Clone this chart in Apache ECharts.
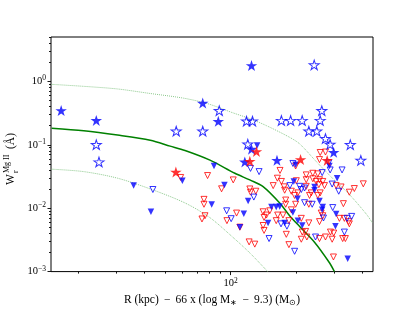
<!DOCTYPE html>
<html><head><meta charset="utf-8">
<script src="https://cdn.jsdelivr.net/npm/echarts@6/dist/echarts.min.js"></script>
<style>html,body{margin:0;padding:0;background:#fff}#c{width:415px;height:312px}</style>
</head><body><div id="c"></div>
<script>
// ---- axis ranges and ticks (data units: R in kpc, W in Angstrom) ----
const xMin = 15, xMax = 450, yMin = 0.001, yMax = 5;
const xMajorTicks = [100];
const xMinorTicks = [20, 30, 40, 50, 60, 70, 80, 90, 200, 300, 400];
const yMajorTicks = [0.001, 0.01, 0.1, 1];
const yMinorTicks = [0.002,0.003,0.004,0.005,0.006,0.007,0.008,0.009,
                     0.02,0.03,0.04,0.05,0.06,0.07,0.08,0.09,
                     0.2,0.3,0.4,0.5,0.6,0.7,0.8,0.9,2,3,4,5];

// ---- data points [R, W] ----
const blueStarFilled = [[16.7,0.339],[24.2,0.237],[74.5,0.444],[87.8,0.229],[124.7,1.74],[124.7,0.0834],[116.2,0.0525],[163.2,0.0558],[297,0.0742]];
const blueStarOpen = [[24.2,0.0986],[24.9,0.0525],[56.3,0.161],[74.5,0.161],[88.7,0.339],[118.3,0.232],[126,0.232],[171,0.237],[188.5,0.237],[213,0.237],[262,0.339],[257.6,0.237],[228.5,0.161],[248.5,0.161],[272.4,0.123],[286,0.0997],[354,0.0986],[241.8,1.78],[119.9,0.1004],[395.7,0.0558]];
const redStarFilled = [[56.1,0.0364],[131.4,0.0768],[122.5,0.0538],[209.4,0.0572],[277.3,0.0554]];
const blueTriFilled = [[35.9,0.0227],[43.1,0.00877],[60.1,0.0271],[83.9,0.0462],[93.7,0.0232],[81.9,0.01145],[115,0.00816],[120.3,0.013],[132.3,0.0976],[110.3,0.00502],[153.9,0.01047],[161.9,0.01047],[168,0.01058],[148.5,0.00586],[177,0.00586],[195,0.0264],[202.9,0.01408],[193.1,0.00855],[203.5,0.00636],[213.2,0.00533],[284.1,0.0462],[308,0.0297],[242.6,0.0216],[242.6,0.0192],[255.7,0.013],[264.7,0.01047],[263.1,0.00941],[304.8,0.00808],[302.6,0.0052],[344.4,0.00159],[198.7,0.0484]];
const blueTriOpen = [[44,0.0197],[95.9,0.00909],[100.6,0.00683],[123.4,0.0424],[135.1,0.0377],[127.8,0.01496],[150.1,0.00332],[170.3,0.00566],[181.3,0.0052],[196.6,0.00209],[193.1,0.0507],[187.1,0.0227],[207.3,0.0221],[263.1,0.0364],[286.2,0.0401],[282,0.0519],[324.6,0.0401],[292.3,0.024],[313.3,0.0185],[218.4,0.0208],[211,0.0197],[218.4,0.0122],[236.7,0.01153],[294.1,0.01022],[342.2,0.00691],[359.2,0.00742],[266.7,0.007],[332.6,0.0042],[245.2,0.00351]];
const redTriOpen = [[59,0.0305],[78.4,0.0327],[102.8,0.0279],[90.9,0.0202],[75.5,0.01377],[75.5,0.01153],[106.5,0.00837],[76.3,0.0076],[73.9,0.00676],[96.2,0.00636],[110.3,0.00502],[121.6,0.00294],[129.1,0.00271],[168.5,0.0394],[122.5,0.0201],[123.4,0.01786],[130.5,0.0185],[163.9,0.0297],[171,0.0264],[156.8,0.0227],[176.1,0.0217],[177,0.0192],[200.2,0.0271],[178.9,0.01344],[178.9,0.01153],[140.9,0.00877],[146,0.00779],[142.4,0.00716],[164.4,0.00779],[173.9,0.00779],[189.9,0.00941],[140.9,0.00533],[142.4,0.00446],[161.9,0.00636],[180.1,0.00387],[185.1,0.00266],[211,0.00691],[213.2,0.0042],[211,0.00324],[223.8,0.00351],[198.7,0.0462],[189.9,0.0185],[196.6,0.01588],[203.5,0.01742],[198.7,0.01153],[222.3,0.0335],[238.3,0.0355],[251.2,0.0348],[257.6,0.0755],[272.4,0.0768],[255.7,0.0584],[222.3,0.0281],[238.3,0.0291],[247,0.0264],[255.7,0.0281],[264.7,0.0264],[253.9,0.0235],[269.5,0.0227],[222.3,0.0221],[304.8,0.0227],[321.2,0.0216],[369.5,0.0204],[350.5,0.01786],[406.1,0.0242],[234.3,0.01742],[230.2,0.01588],[251.2,0.01588],[257.6,0.01742],[228.5,0.01153],[260.4,0.00837],[264.7,0.0076],[315.6,0.00691],[332.6,0.00691],[348,0.00614],[350.5,0.00566],[255.7,0.00614],[228.5,0.00586],[287.1,0.0042],[297.2,0.00405],[220.8,0.0043],[255.7,0.00332],[272.4,0.00351],[292.3,0.00324],[326.7,0.00332],[336.1,0.00332],[296.3,0.0017],[329.1,0.01178],[151.2,0.00909],[185.1,0.00636]];

// ---- model curves ----
const modelR = [15.1,21.2,30.3,42.8,52.8,61.8,80.4,104.6,122.5,140.5,168,186.5,207.3,242.6,284.1,299.4];
const modelW = [0.1825,0.1664,0.1422,0.1178,0.0952,0.0811,0.0572,0.0355,0.0279,0.0221,0.01208,0.0076,0.00514,0.00291,0.00138,0.001];
const upperR = [15.1,21.2,30.3,42.8,60.6,78,102.4,122.5,146.5,186.5,207.3,247.8,293.2,350.5,419.2,446.5];
const upperW = [0.896,0.834,0.758,0.643,0.544,0.447,0.319,0.258,0.199,0.131,0.1033,0.0538,0.0297,0.01646,0.00808,0.00593];
const lowerR = [15.1,21.2,30.3,42.8,61.8,80.4,102.4,122.5,148];
const lowerW = [0.0412,0.0377,0.0297,0.0201,0.01208,0.00708,0.00348,0.00197,0.001];

const FONT = 'Liberation Serif';
const lg = Math.log10;
const toXY = arr => arr.map(p => [lg(p[0]), lg(p[1])]);
const curve = (R, W) => R.map((r, i) => [lg(r), lg(W[i])]);
const STAR = 'path://M100 0L77.55 69.1L4.89 69.1L63.67 111.8L41.22 180.9L100 138.2L158.78 180.9L136.33 111.8L195.11 69.1L122.45 69.1Z';
const BLUE = '#0000ff', RED = '#ff0000';

const supFmt = v => { const e = Math.round(v); return '{b|10}{s|' + (e < 0 ? '\u2212' + (-e) : e) + '}'; };
const tickRich = {
  b: {fontSize: 10.5, fontFamily: FONT, color: '#000', lineHeight: 14},
  s: {fontSize: 7.5, fontFamily: FONT, color: '#000', verticalAlign: 'top', lineHeight: 8}
};

const chart = echarts.init(document.getElementById('c'));
const tickLine = {color: '#000', width: 0.9};
const noLine = {show: false, onZero: false};

const scatter = (name, data, symbol, size, itemStyle, z, extra) => Object.assign({
  name, type: 'scatter', data: toXY(data), symbol, symbolSize: size, itemStyle, z,
  silent: true, emphasis: {disabled: true}
}, extra || {});

chart.setOption({
  animation: false,
  grid: {left: 51, top: 37, right: 42, bottom: 35, show: true, borderColor: '#000', borderWidth: 1, backgroundColor: 'transparent'},
  xAxis: [
    {type: 'value', position: 'bottom', min: lg(xMin), max: lg(xMax),
     axisLine: noLine, splitLine: {show: false},
     axisTick: {show: true, customValues: xMajorTicks.map(lg), length: 3.5, lineStyle: tickLine},
     axisLabel: {customValues: xMajorTicks.map(lg), formatter: supFmt, rich: tickRich, margin: 5},
     name: '{n|R (kpc) \u2009\u2212\u2009 66 x (log M}{sb|\u2217}{n| \u2009\u2212\u2009 9.3) (M}{sb|\u2299}{n|)}',
     nameLocation: 'middle', nameGap: 19,
     nameTextStyle: {rich: {
       n: {fontSize: 11.5, fontFamily: FONT, color: '#000', lineHeight: 14},
       sb: {fontSize: 7.5, fontFamily: FONT, color: '#000', lineHeight: 9, verticalAlign: 'bottom'}
     }}},
    {type: 'value', position: 'bottom', min: lg(xMin), max: lg(xMax),
     axisLine: noLine, splitLine: {show: false},
     axisTick: {show: true, customValues: xMinorTicks.map(lg), length: 2, lineStyle: tickLine},
     axisLabel: {show: false}}
  ],
  yAxis: [
    {type: 'value', position: 'left', min: lg(yMin), max: lg(yMax),
     axisLine: noLine, splitLine: {show: false},
     axisTick: {show: true, customValues: yMajorTicks.map(lg), length: 3.5, lineStyle: tickLine},
     axisLabel: {customValues: yMajorTicks.map(lg), formatter: supFmt, rich: tickRich, margin: 5}},
    {type: 'value', position: 'left', min: lg(yMin), max: lg(yMax),
     axisLine: noLine, splitLine: {show: false},
     axisTick: {show: true, customValues: yMinorTicks.map(lg), length: 2, lineStyle: tickLine},
     axisLabel: {show: false}}
  ],
  graphic: [{
    type: 'group', x: 15, y: 185, rotation: Math.PI / 2,
    children: [
      {type: 'text', x: 0, y: 2, style: {text: 'W', font: '11.5px "Liberation Serif"', fill: '#000', verticalAlign: 'bottom'}},
      {type: 'text', x: 12, y: 5, style: {text: 'r', font: '7.5px "Liberation Serif"', fill: '#000', verticalAlign: 'bottom'}},
      {type: 'text', x: 12, y: -4, style: {text: 'Mg II', font: '8px "Liberation Serif"', fill: '#000', verticalAlign: 'bottom'}},
      {type: 'text', x: 36, y: 2, style: {text: '(\u00c5)', font: '11.5px "Liberation Serif"', fill: '#000', verticalAlign: 'bottom'}}
    ]
  }],
  series: [
    {type: 'line', data: curve(upperR, upperW), showSymbol: false, symbol: 'none', smooth: 0.3, silent: true, z: 1,
     lineStyle: {color: '#8cc88c', width: 1, type: 'dotted'}},
    {type: 'line', data: curve(lowerR, lowerW), showSymbol: false, symbol: 'none', smooth: 0.3, silent: true, z: 1,
     lineStyle: {color: '#8cc88c', width: 1, type: 'dotted'}},
    {type: 'line', data: curve(modelR, modelW), showSymbol: false, symbol: 'none', smooth: 0.3, silent: true, z: 1,
     lineStyle: {color: '#008000', width: 1.5}},
    scatter('redTriOpen', redTriOpen, 'triangle', 6, {color: 'rgba(255,255,255,0)', borderColor: RED, borderWidth: 1}, 2, {symbolRotate: 180}),
    scatter('blueTriOpen', blueTriOpen, 'triangle', 6, {color: 'rgba(255,255,255,0)', borderColor: BLUE, borderWidth: 1}, 3, {symbolRotate: 180}),
    scatter('blueTriFilled', blueTriFilled, 'triangle', 6.5, {color: BLUE}, 4, {symbolRotate: 180}),
    scatter('blueStarOpen', blueStarOpen, STAR, [10, 9.5], {color: 'rgba(255,255,255,0)', borderColor: BLUE, borderWidth: 1}, 5, {symbolOffset: [0, -0.5]}),
    scatter('blueStarFilled', blueStarFilled, STAR, [11.5, 11], {color: BLUE}, 6, {symbolOffset: [0, -0.6]}),
    scatter('redStarFilled', redStarFilled, STAR, [11.5, 11], {color: RED}, 7, {symbolOffset: [0, -0.6]})
  ]
});
</script></body></html>
